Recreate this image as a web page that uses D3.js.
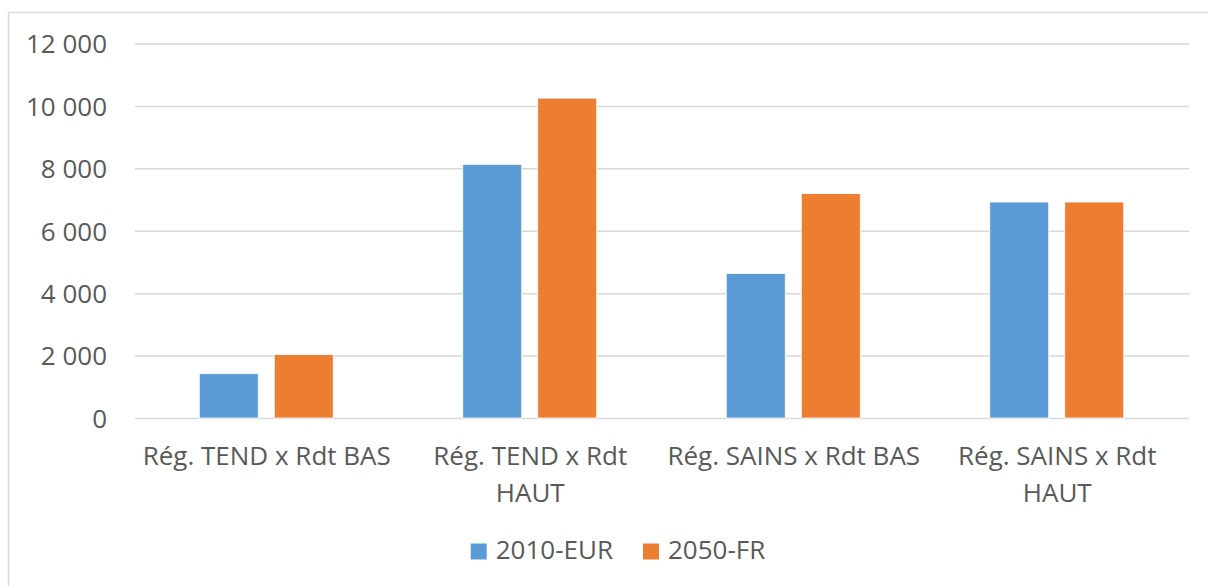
<!DOCTYPE html>
<html>
<head>
<meta charset="utf-8">
<script src="https://cdn.jsdelivr.net/npm/d3@7"></script>
<style>
  html, body { margin: 0; padding: 0; background: #fff; }
  svg text { font-family: "Open Sans", "Noto Sans", sans-serif; fill: #595959; }
</style>
</head>
<body>
<div id="chart"></div>
<script>
// valeurs
const categories = ['Rég. TEND x Rdt BAS', 'Rég. TEND x Rdt HAUT', 'Rég. SAINS x Rdt BAS', 'Rég. SAINS x Rdt HAUT']
const series = ['2010-EUR', '2050-FR']
const values2010 = [1420, 8130, 4630, 6920]
const values2050 = [2030, 10250, 7190, 6920]
const yTicks = [0, 2000, 4000, 6000, 8000, 10000, 12000]
const colors = ['#5b9bd5', '#ed7d31']

const width = 1208, height = 586
const fontSize = 26
const plot = { left: 135, right: 1189, top: 43.5, bottom: 418 }

const svg = d3.select('#chart')
  .append('svg')
  .attr('width', width)
  .attr('height', height)

// cadre du graphique (seuls haut et gauche visibles)
svg.append('rect')
  .attr('x', 8.5).attr('y', 12.5)
  .attr('width', 1230).attr('height', 620)
  .attr('fill', 'none')
  .attr('stroke', '#d9d9d9')
  .attr('stroke-width', 1.5)

const x = d3.scaleBand()
  .domain(categories)
  .range([plot.left, plot.right])

const x1 = d3.scaleBand()
  .domain(series)
  .range([x.bandwidth() / 2 - 67.5, x.bandwidth() / 2 + 66.5])
  .paddingInner(0.2133)

const y = d3.scaleLinear()
  .domain([0, 12000])
  .range([plot.bottom, plot.top])

const fmt = v => d3.format(',')(v).replace(/,/g, ' ')

// grille + axe y
const yAxis = svg.append('g')
  .attr('transform', `translate(${plot.left},0)`)
  .call(d3.axisLeft(y).tickValues(yTicks).tickSize(-(plot.right - plot.left)).tickPadding(28).tickFormat(fmt))
yAxis.select('.domain').remove()
yAxis.selectAll('.tick line').attr('stroke', '#d9d9d9').attr('stroke-width', 1.5)
yAxis.selectAll('.tick text')
  .style('font-size', fontSize + 'px')
  .attr('fill', '#595959')
  .attr('dy', '0.36em')

// barres
const rows = categories.map((c, i) => ({ cat: c, vals: [values2010[i], values2050[i]] }))
const groups = svg.append('g')
  .selectAll('g')
  .data(rows)
  .join('g')
  .attr('transform', d => `translate(${x(d.cat)},0)`)

groups.selectAll('rect')
  .data(d => d.vals.map((v, j) => ({ key: series[j], v, j })))
  .join('rect')
  .attr('x', d => x1(d.key))
  .attr('y', d => y(d.v))
  .attr('width', x1.bandwidth())
  .attr('height', d => y(0) - y(d.v))
  .attr('fill', d => colors[d.j])
  .attr('stroke', '#fff')
  .attr('stroke-width', 0.8)

// libellés des catégories (retour à la ligne)
const xLabels = svg.append('g')
  .selectAll('text')
  .data(categories)
  .join('text')
  .attr('x', d => x(d) + x.bandwidth() / 2)
  .attr('y', 465)
  .attr('text-anchor', 'middle')
  .style('font-size', fontSize + 'px')

xLabels.each(function (d) {
  const t = d3.select(this)
  const words = d.split(' ')
  const maxW = 258
  let line = []
  let tspan = t.append('tspan').attr('x', t.attr('x')).attr('dy', 0)
  words.forEach(w => {
    line.push(w)
    tspan.text(line.join(' '))
    if (tspan.node().getComputedTextLength() > maxW && line.length > 1) {
      line.pop()
      tspan.text(line.join(' '))
      line = [w]
      tspan = t.append('tspan').attr('x', t.attr('x')).attr('dy', 36.7).text(w)
    }
  })
})

// légende
const legend = svg.append('g')
const items = legend.selectAll('g')
  .data(series)
  .join('g')
items.append('rect')
  .attr('width', 16).attr('height', 16)
  .attr('y', 543.5)
  .attr('fill', (d, i) => colors[i])
items.append('text')
  .attr('x', 25)
  .attr('y', 559)
  .style('font-size', fontSize + 'px')
  .text(d => d)

let cursor = 0
const offsets = []
items.each(function () {
  offsets.push(cursor)
  cursor += this.getBBox().width + 30
})
const total = cursor - 30
const start = 618 - total / 2
items.attr('transform', (d, i) => `translate(${start + offsets[i]},0)`)
</script>
</body>
</html>
